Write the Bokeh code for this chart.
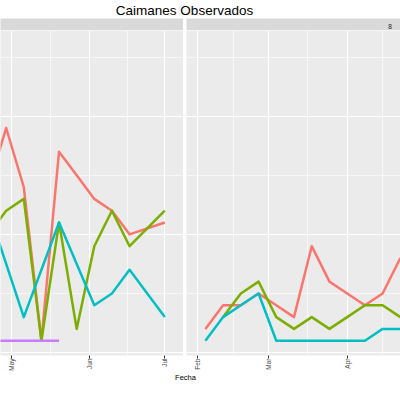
import math
import pandas as pd
from bokeh.plotting import figure
from bokeh.layouts import column, row
from bokeh.models import Range1d, FixedTicker, Grid, Label, DatetimeTickFormatter
from bokeh.embed import file_html
from bokeh.resources import INLINE
from bokeh.core.validation import silence
from bokeh.core.validation.warnings import MISSING_RENDERERS

silence(MISSING_RENDERERS, True)

# ---------------- data ----------------
titulo = "Caimanes Observados"
titulo_x = "Fecha"
facetas = ["", "8"]
colores = ["#F8766D", "#7CAE00", "#00BFC4", "#C77CFF"]

# facet 1
fechas_rojo_1 = ["2017-04-22", "2017-04-29", "2017-05-06", "2017-05-13", "2017-05-20",
                 "2017-05-27", "2017-06-03", "2017-06-10", "2017-06-17", "2017-07-01"]
rojo_1 = [14, 19, 14, 1, 17, 15, 13, 12, 10, 11]
fechas_verde_1 = fechas_rojo_1
verde_1 = [10, 12, 13, 1, 11, 2, 9, 12, 9, 12]
fechas_cian_1 = ["2017-04-22", "2017-05-06", "2017-05-20", "2017-06-03", "2017-06-10",
                 "2017-06-17", "2017-07-01"]
cian_1 = [12, 3, 11, 4, 5, 7, 3]
fechas_morado_1 = ["2017-04-22", "2017-04-29", "2017-05-06", "2017-05-13", "2017-05-20"]
morado_1 = [1, 1, 1, 1, 1]

# facet 2
fechas_rojo_2 = ["2018-02-04", "2018-02-11", "2018-02-18", "2018-02-25", "2018-03-04",
                 "2018-03-11", "2018-03-18", "2018-03-25", "2018-04-01", "2018-04-08",
                 "2018-04-15", "2018-04-22"]
rojo_2 = [2, 4, 4, 5, 4, 3, 9, 6, 5, 4, 5, 8]
fechas_verde_2 = fechas_rojo_2[1:]
verde_2 = [3, 5, 6, 3, 2, 3, 2, 3, 4, 4, 3]
fechas_cian_2 = fechas_rojo_2
cian_2 = [1, 3, 4, 5, 1, 1, 1, 1, 1, 1, 2, 2]

marcas_1 = ["2017-05-01", "2017-06-01", "2017-07-01"]
etiquetas_1 = ["May", "Jun", "Jul"]
marcas_2 = ["2018-02-01", "2018-03-01", "2018-04-01"]
etiquetas_2 = ["Feb", "Mar", "Apr"]

y_mayores = [0, 10, 20]
y_menores = [5, 15, 25]

# ---------------- layout ----------------
DAY = 86400000.0
W1, W2, GAP = 183, 214, 3
FRAME_H = 325
FONT = "Liberation Sans"


def ms(s):
    return pd.Timestamp(s).value / 1e6


def panel(width, x_start, x_end, marcas, etiquetas, series):
    p = figure(frame_width=width, frame_height=FRAME_H, x_axis_type="datetime",
               y_axis_location=None,
               x_range=Range1d(x_start, x_end), y_range=Range1d(-0.25, 27.25),
               output_backend="svg", toolbar_location=None,
               background_fill_color="#EBEBEB", border_fill_color="white",
               min_border_left=0, min_border_right=0, min_border_top=0,
               min_border_bottom=0, outline_line_color=None)
    for g in p.grid:
        g.visible = False
    ticks = [ms(m) for m in marcas]
    step = ticks[1] - ticks[0]
    ext = [ticks[0] - step] + ticks + [ticks[-1] + step]
    minors = [(a + b) / 2 for a, b in zip(ext[:-1], ext[1:])]
    p.add_layout(Grid(dimension=0, ticker=FixedTicker(ticks=ticks, minor_ticks=minors),
                      grid_line_color="white", grid_line_width=1.1,
                      minor_grid_line_color="white", minor_grid_line_width=0.6))
    p.add_layout(Grid(dimension=1, ticker=FixedTicker(ticks=y_mayores, minor_ticks=y_menores),
                      grid_line_color="white", grid_line_width=1.1,
                      minor_grid_line_color="white", minor_grid_line_width=0.6))
    ax = p.xaxis[0]
    ax.ticker = FixedTicker(ticks=ticks)
    ax.formatter = DatetimeTickFormatter(days="%b", months="%b", years="%b")
    ax.major_label_overrides = {t: lab for t, lab in zip(ticks, etiquetas)}
    ax.axis_line_color = None
    ax.major_tick_line_color = "#333333"
    ax.major_tick_out = 3
    ax.major_tick_in = 0
    ax.minor_tick_out = 0
    ax.minor_tick_in = 0
    ax.major_label_orientation = math.pi / 2
    ax.major_label_standoff = 0
    ax.major_label_text_font = FONT
    ax.major_label_text_font_size = "6.5px"
    ax.major_label_text_color = "#4D4D4D"
    for (fechas, vals), col in zip(series, colores):
        p.line(x=pd.to_datetime(fechas).to_numpy(), y=vals, line_color=col,
               line_width=2.5, line_join="round")
    return p


p1 = panel(W1, ms("2017-05-01") - 4.25 * DAY, ms("2017-07-01") + 7.43 * DAY,
           marcas_1, etiquetas_1,
           [(fechas_rojo_1, rojo_1), (fechas_verde_1, verde_1),
            (fechas_cian_1, cian_1), (fechas_morado_1, morado_1)])
p2 = panel(W2, ms("2018-02-01") - 4.46 * DAY, ms("2018-04-22") + 0.06 * DAY,
           marcas_2, etiquetas_2,
           [(fechas_rojo_2, rojo_2), (fechas_verde_2, verde_2),
            (fechas_cian_2, cian_2)])


def blank(width, height, fill):
    f = figure(width=width, height=height, x_axis_location=None, y_axis_location=None,
               output_backend="svg", toolbar_location=None,
               background_fill_color=fill, border_fill_color=fill,
               min_border=0, outline_line_color=None)
    for g in f.grid:
        g.visible = False
    return f


tfig = blank(400, 18, "white")
tfig.add_layout(Label(x=184, y=8.5, x_units="screen", y_units="screen", text=titulo,
                      text_align="center", text_baseline="alphabetic",
                      text_font=FONT, text_font_size="13.5px", text_color="black"))

s1 = blank(W1, 12, "#D9D9D9")
s2 = blank(W2, 12, "#D9D9D9")
s1.add_layout(Label(x=W1 / 2, y=4, x_units="screen", y_units="screen", text=facetas[0],
                    text_align="center", text_baseline="middle",
                    text_font=FONT, text_font_size="6.5px", text_color="#1A1A1A"))
s2.add_layout(Label(x=203.5, y=4, x_units="screen", y_units="screen", text=facetas[1],
                    text_align="center", text_baseline="middle",
                    text_font=FONT, text_font_size="6.5px", text_color="#1A1A1A"))

ffig = blank(400, 14, "white")
ffig.add_layout(Label(x=185, y=10.5, x_units="screen", y_units="screen", text=titulo_x,
                      text_align="center", text_baseline="alphabetic",
                      text_font=FONT, text_font_size="7.5px", text_color="black"))

layout = column(tfig, row(s1, s2, spacing=GAP), row(p1, p2, spacing=GAP), ffig)

open("out.html", "w").write(file_html(layout, INLINE))
